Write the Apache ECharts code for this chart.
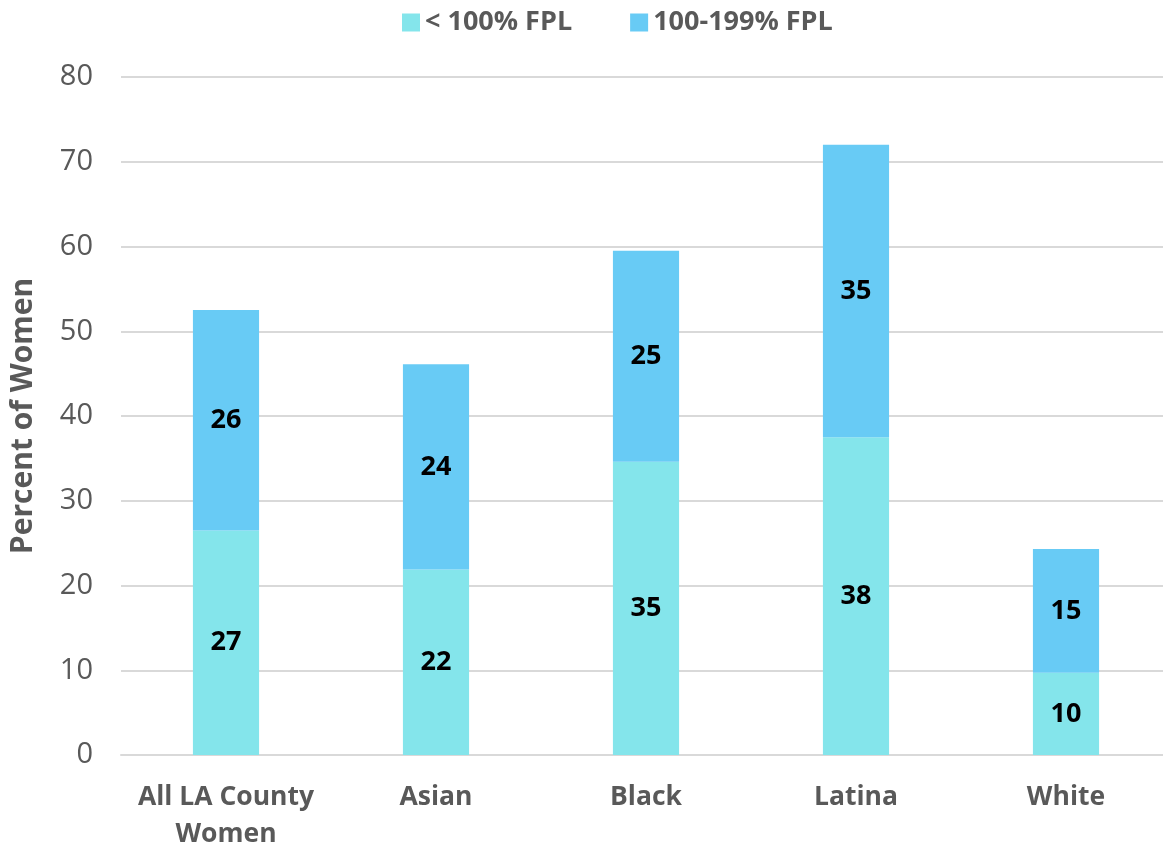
<!DOCTYPE html>
<html><head><meta charset="utf-8">
<script src="https://cdn.jsdelivr.net/npm/echarts@6/dist/echarts.min.js"></script>
<style>html,body{margin:0;padding:0;background:#fff}#c{width:1163px;height:849px}</style>
</head><body><div id="c"></div>
<script>
const categories = ['All LA County\nWomen', 'Asian', 'Black', 'Latina', 'White'];
const below100 = [26.5, 21.9, 34.6, 37.5, 9.7];
const between100and199 = [26.0, 24.2, 24.9, 34.5, 14.6];
const seriesNames = ['< 100% FPL', '100-199% FPL'];
const yTicks = {min: 0, max: 80, interval: 10};

const FONT = '"Open Sans", "Liberation Sans", sans-serif';
const chart = echarts.init(document.getElementById('c'));
const label = {
  show: true, position: 'inside', color: '#000', fontFamily: FONT,
  fontWeight: 'bold', fontSize: 27,
  formatter: p => Math.round(p.value)
};
chart.setOption({
  animation: false,
  textStyle: {fontFamily: FONT},
  legend: {
    top: 4, left: 397, itemWidth: 18, itemHeight: 18, itemGap: 58,
    icon: 'rect',
    textStyle: {fontFamily: FONT, fontWeight: 'bold', fontSize: 27, color: '#595959'},
    data: seriesNames
  },
  grid: {left: 121, right: -8, top: 77, bottom: 94, outerBoundsMode: 'none', containLabel: false},
  xAxis: {
    type: 'category', data: categories,
    axisLine: {lineStyle: {color: '#d9d9d9', width: 2}},
    axisTick: {show: false},
    axisLabel: {interval: 0, color: '#595959', fontFamily: FONT, fontWeight: 'bold', fontSize: 26.5, margin: 24, lineHeight: 37}
  },
  yAxis: {
    type: 'value', min: yTicks.min, max: yTicks.max, interval: yTicks.interval,
    name: 'Percent of Women', nameLocation: 'middle', nameGap: 83, nameRotate: 90,
    nameTextStyle: {color: '#595959', fontFamily: FONT, fontWeight: 'bold', fontSize: 30},
    axisLine: {show: false}, axisTick: {show: false},
    splitLine: {lineStyle: {color: '#d9d9d9', width: 2}},
    axisLabel: {color: '#595959', fontFamily: FONT, fontSize: 29, margin: 28}
  },
  series: [
    {name: seriesNames[0], type: 'bar', stack: 'a', data: below100, barWidth: '31.5%',
     itemStyle: {color: '#84E5EB'}, label: label},
    {name: seriesNames[1], type: 'bar', stack: 'a', data: between100and199, barWidth: '31.5%',
     itemStyle: {color: '#68CBF5'}, label: label}
  ]
});
</script></body></html>
